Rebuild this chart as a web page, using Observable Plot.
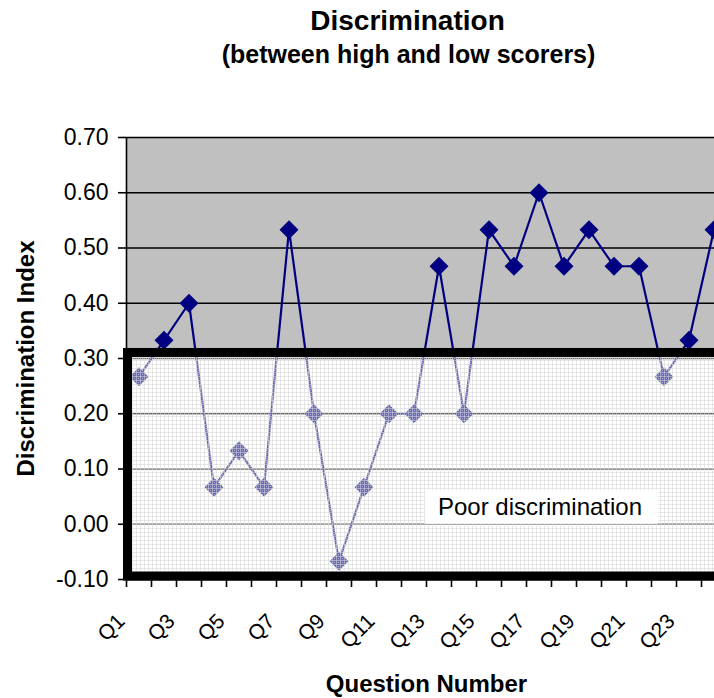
<!DOCTYPE html>
<html><head><meta charset="utf-8">
<script src="https://cdn.jsdelivr.net/npm/d3@7"></script>
<script src="https://cdn.jsdelivr.net/npm/@observablehq/plot@0.6"></script>
<style>body{margin:0;background:#fff;}</style>
</head><body><div id="chart"></div>
<script>
const questions = ["Q1","Q2","Q3","Q4","Q5","Q6","Q7","Q8","Q9","Q10","Q11","Q12","Q13","Q14","Q15","Q16","Q17","Q18","Q19","Q20","Q21","Q22","Q23","Q24"];
const discrimination = [0.267,0.333,0.400,0.067,0.133,0.067,0.533,0.200,-0.067,0.067,0.200,0.200,0.467,0.200,0.533,0.467,0.600,0.467,0.533,0.467,0.467,0.267,0.333,0.533];
const yTicks = [-0.10,0.00,0.10,0.20,0.30,0.40,0.50,0.60,0.70];
const gridValues = [0.00,0.10,0.20,0.30,0.40,0.50,0.60,0.70];
const xTickLabels = ["Q1","Q3","Q5","Q7","Q9","Q11","Q13","Q15","Q17","Q19","Q21","Q23"];
const titleText = "Discrimination";
const subtitleText = "(between high and low scorers)";
const yLabel = "Discrimination Index";
const xLabel = "Question Number";
const zone = [{top: 0.31, bottom: -0.0946, x1: 0.56, x2: 25}];
const zoneLabel = [{text: "Poor discrimination", x: 17.04, y: 0.030, bx1: 12.46, bx2: 21.78, by1: 0.0, by2: 0.061}];

const data = questions.map((q, i) => ({q, i: i + 1, v: discrimination[i]}));
const boundaries = questions.map((q, i) => i + 0.5);
const labelData = data.filter(d => xTickLabels.includes(d.q));
const font = "'Liberation Sans', Arial, sans-serif";

const chart = Plot.plot({
  width: 714, height: 698,
  marginTop: 137, marginBottom: 119, marginLeft: 126, marginRight: 0,
  x: {type: "linear", domain: [0.5, 24.5], range: [126, 726]},
  y: {type: "linear", domain: [-0.1, 0.7]},
  style: {fontFamily: font, background: "white", color: "black"},
  marks: [
    Plot.rect(zone, {x1: 0.5, x2: 24.5, y1: "top", y2: 0.7, fill: "#c0c0c0"}),
    Plot.ruleY(gridValues, {stroke: "black", strokeWidth: 1.6}),
    Plot.ruleY([-0.1], {stroke: "black", strokeWidth: 2}),
    Plot.line(data, {x: "i", y: "v", stroke: "#000080", strokeWidth: 2.2}),
    Plot.dot(data, {x: "i", y: "v", symbol: "square", r: 7, rotate: 45, fill: "#000080", stroke: "#000080", strokeWidth: 1}),
    Plot.rect(zone, {x1: "x1", x2: "x2", y1: "bottom", y2: "top", fill: "url(#poorFill)", stroke: "black", strokeWidth: 9}),
    Plot.rect(zoneLabel, {x1: "bx1", x2: "bx2", y1: "by1", y2: "by2", fill: "white"}),
    Plot.text(zoneLabel, {x: "x", y: "y", text: "text", fontSize: 24, fill: "black"}),
    Plot.ruleX([0.5], {stroke: "black", strokeWidth: 1.6}),
    Plot.axisY({ticks: yTicks, tickFormat: d => d.toFixed(2), tickSize: 8, tickPadding: 10, fontSize: 23, label: null, strokeWidth: 1.6}),
    Plot.axisX({ticks: boundaries, tickFormat: () => "", tickSize: 8, label: null, strokeWidth: 1.6}),
    Plot.text(labelData, {x: "i", frameAnchor: "bottom", text: "q", rotate: -45, textAnchor: "end", dx: -13, dy: 43, fontSize: 21}),
    Plot.text([yLabel], {frameAnchor: "left", text: d => d, rotate: -90, textAnchor: "middle", dx: -100, fontSize: 24, fontWeight: "bold"}),
    Plot.text([xLabel], {frameAnchor: "bottom", text: d => d, textAnchor: "middle", dx: 6, dy: 112, fontSize: 24, fontWeight: "bold"}),
    Plot.text([titleText], {frameAnchor: "top", text: d => d, textAnchor: "middle", dx: -13, dy: -127, fontSize: 28, fontWeight: "bold"}),
    Plot.text([subtitleText], {frameAnchor: "top", text: d => d, textAnchor: "middle", dx: -12, dy: -92, fontSize: 25, fontWeight: "bold"})
  ]
});

const defs = document.createElementNS("http://www.w3.org/2000/svg", "defs");
defs.innerHTML = `<pattern id="poorFill" width="4" height="4" patternUnits="userSpaceOnUse">
<rect width="4" height="4" fill="#ffffff" fill-opacity="0.42"/>
<rect width="4" height="1" fill="#d4d4d4" fill-opacity="0.55"/>
<rect width="1" height="4" fill="#d4d4d4" fill-opacity="0.55"/>
<rect x="2" y="2" width="1" height="1" fill="#ffffff" fill-opacity="0.5"/></pattern>`;
chart.prepend(defs);
document.getElementById("chart").appendChild(chart);
</script></body></html>
